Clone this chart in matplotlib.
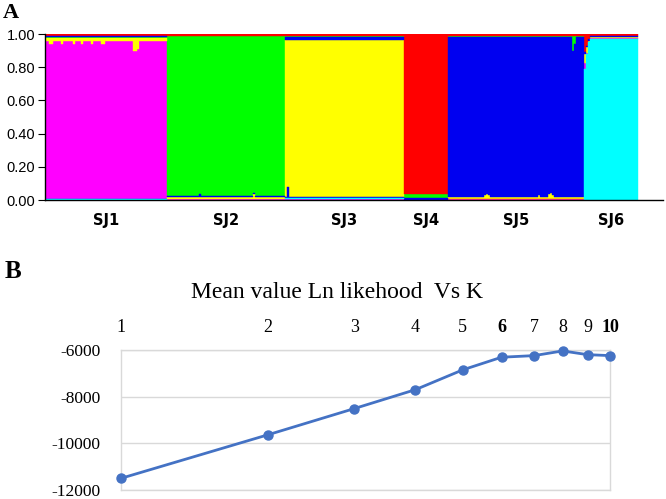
import numpy as np
import matplotlib
matplotlib.use("Agg")
import matplotlib.pyplot as plt
from matplotlib.ticker import FixedLocator, NullLocator

# ---- panel A : STRUCTURE membership (K = 6) ----
groups = ['SJ1', 'SJ2', 'SJ3', 'SJ4', 'SJ5', 'SJ6']
n_ind = [61, 59, 60, 22, 68, 27]
main_cluster = ['magenta', 'green', 'yellow', 'red', 'blue', 'cyan']

# minor shares stacked below / above the main cluster, per group
below = [
    {'cyan': 0.004, 'blue': 0.004},
    {'magenta': 0.008, 'yellow': 0.008, 'blue': 0.008},
    {'magenta': 0.008, 'cyan': 0.006, 'blue': 0.006},
    {'blue': 0.012, 'green': 0.025},
    {'magenta': 0.005, 'red': 0.004, 'yellow': 0.008},
    {},
]
above = [
    {'yellow': 0.02, 'green': 0.006, 'blue': 0.006, 'red': 0.01},
    {'red': 0.012},
    {'blue': 0.014, 'green': 0.01, 'red': 0.01},
    {},
    {'green': 0.01, 'red': 0.01},
    {'magenta': 0.005, 'yellow': 0.006, 'blue': 0.01, 'red': 0.01},
]

# individuals that deviate visibly: (group, index, cluster, extra share)
outliers = [
    (0, 2, 'yellow', 0.02), (0, 3, 'yellow', 0.02), (0, 8, 'yellow', 0.02),
    (0, 14, 'yellow', 0.02), (0, 18, 'yellow', 0.02), (0, 23, 'yellow', 0.02),
    (0, 28, 'yellow', 0.02), (0, 29, 'yellow', 0.02),
    (0, 44, 'yellow', 0.06), (0, 45, 'yellow', 0.06), (0, 46, 'yellow', 0.05),
    (1, 16, 'blue', 0.015), (1, 43, 'yellow', 0.02),
    (2, 1, 'blue', 0.06),
    (4, 18, 'yellow', 0.015), (4, 19, 'yellow', 0.02), (4, 20, 'yellow', 0.015),
    (4, 45, 'yellow', 0.015), (4, 50, 'yellow', 0.02), (4, 51, 'yellow', 0.025),
    (4, 52, 'yellow', 0.015),
    (4, 62, 'green', 0.08), (4, 63, 'green', 0.04),
    (5, 0, 'red', 0.10), (5, 0, 'yellow', 0.05), (5, 0, 'magenta', 0.03),
    (5, 1, 'red', 0.06), (5, 1, 'yellow', 0.03), (5, 2, 'red', 0.02),
]

palette = {'magenta': '#FF00FF', 'green': '#00FF00', 'yellow': '#FFFF00',
           'red': '#FF0000', 'blue': '#0000F0', 'cyan': '#00FFFF'}

# ---- panel B : mean Ln likelihood vs K ----
k_values = [1, 2, 3, 4, 5, 6, 7, 8, 9, 10]
mean_lnp = [-11500, -9630, -8510, -7700, -6850, -6310, -6240, -6040, -6200, -6240]

W, H = 666, 499
fig = plt.figure(figsize=(W / 100, H / 100), dpi=100)

# panel A axes
axA = fig.add_axes([45 / W, 1 - 200 / H, 618 / W, 166 / H])
rects = {c: ([], [], []) for c in palette}
x0 = 0
for g in range(len(groups)):
    for i in range(n_ind[g]):
        lo = dict(below[g])
        hi = dict(above[g])
        for og, oi, cl, sh in outliers:
            if og == g and oi == i:
                if cl in lo:
                    lo[cl] += sh
                else:
                    hi[cl] = hi.get(cl, 0) + sh
        main = 1 - sum(lo.values()) - sum(hi.values())
        segs = list(lo.items()) + [(main_cluster[g], main)] + list(hi.items())
        b = 0
        for cl, v in segs:
            rects[cl][0].append(x0 + i)
            rects[cl][1].append(v)
            rects[cl][2].append(b)
            b += v
    x0 += n_ind[g]
N = x0
for cl, (xs, hs, bs) in rects.items():
    axA.bar(xs, hs, bottom=bs, width=1, align='edge', color=palette[cl],
            edgecolor=palette[cl], linewidth=0.3)

axA.set_xlim(0, N * 618 / 593)
axA.set_ylim(0, 1)
axA.spines['top'].set_visible(False)
axA.spines['right'].set_visible(False)
axA.spines['left'].set_linewidth(1)
axA.spines['bottom'].set_linewidth(1)
axA.set_yticks([0, 0.2, 0.4, 0.6, 0.8, 1.0])
axA.set_yticklabels(['%.2f' % v for v in [0, 0.2, 0.4, 0.6, 0.8, 1.0]],
                    family='Liberation Sans', fontsize=10.5)
axA.tick_params(axis='y', direction='out', length=5, pad=2)
starts = np.cumsum([0] + n_ind[:-1])
centers = [s + n / 2 for s, n in zip(starts, n_ind)]
axA.set_xticks(centers)
axA.set_xticklabels(groups, fontweight='bold', fontsize=10.5, family='DejaVu Sans')
axA.tick_params(axis='x', length=0, pad=9)

fig.text(3 / W, 1 - 13 / H, 'A', family='Liberation Serif', fontweight='bold',
         fontsize=16, va='center', ha='left')

# panel B axes
axB = fig.add_axes([121 / W, 1 - 490 / H, 489 / W, 140 / H])
axB.plot(k_values, mean_lnp, color='#4472C4', linewidth=2, marker='o',
         markersize=6.5, clip_on=False, zorder=3)
axB.set_xscale('log')
axB.set_xlim(1, 10)
axB.set_ylim(-12000, -6000)
axB.xaxis.set_major_locator(FixedLocator(k_values))
axB.xaxis.set_minor_locator(NullLocator())
axB.xaxis.tick_top()
axB.set_xticklabels([str(k) for k in k_values], family='Liberation Serif',
                    fontsize=13)
for lab, k in zip(axB.get_xticklabels(), k_values):
    if k in (6, 10):
        lab.set_fontweight('bold')
axB.tick_params(axis='x', length=0, pad=10)
axB.set_yticks([-12000, -10000, -8000, -6000])
axB.set_yticklabels(['-12000', '-10000', '-8000', '-6000'],
                    family='Liberation Serif', fontsize=12.5)
axB.tick_params(axis='y', length=0, pad=15)
axB.grid(axis='y', color='#D9D9D9', linewidth=1)
for s in axB.spines.values():
    s.set_color('#D9D9D9')
    s.set_linewidth(1)
axB.set_axisbelow(True)

fig.text(337 / W, 1 - 292 / H, 'Mean value Ln likehood  Vs K',
         family='Liberation Serif', fontsize=17, ha='center', va='center')
fig.text(5 / W, 1 - 272 / H, 'B', family='Liberation Serif', fontweight='bold',
         fontsize=18, va='center', ha='left')

fig.savefig('out.png', dpi=100)
